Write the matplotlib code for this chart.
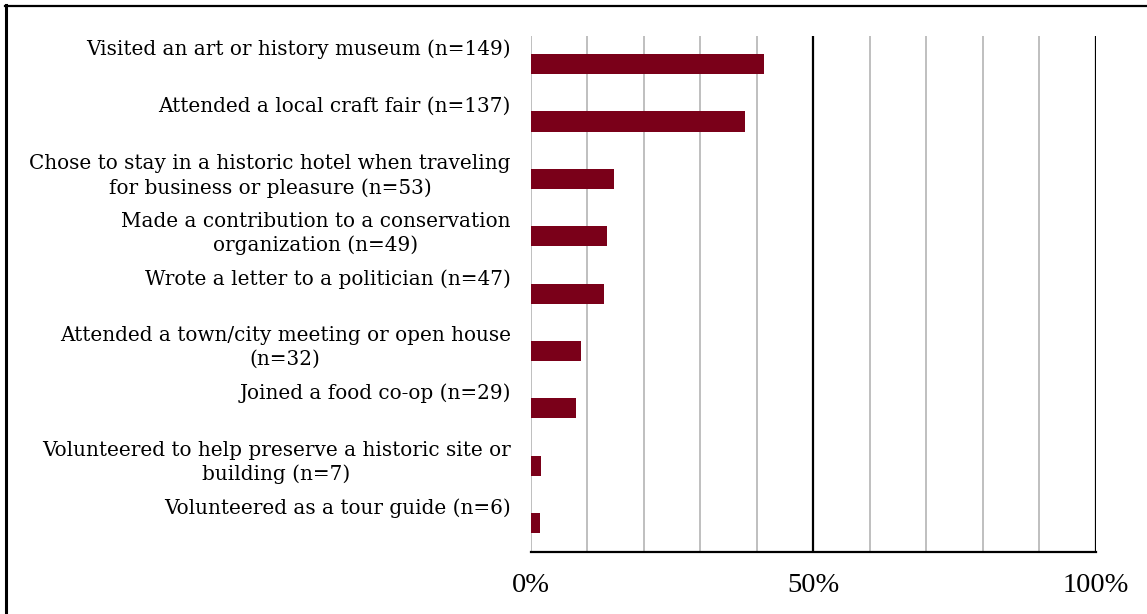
import matplotlib
matplotlib.use("Agg")
import matplotlib.pyplot as plt
from matplotlib.lines import Line2D

categories = [
    "Visited an art or history museum (n=149)",
    "Attended a local craft fair (n=137)",
    "Chose to stay in a historic hotel when traveling\nfor business or pleasure (n=53)",
    "Made a contribution to a conservation\norganization (n=49)",
    "Wrote a letter to a politician (n=47)",
    "Attended a town/city meeting or open house\n(n=32)",
    "Joined a food co-op (n=29)",
    "Volunteered to help preserve a historic site or\nbuilding (n=7)",
    "Volunteered as a tour guide (n=6)",
]
values = [41.3, 38.0, 14.7, 13.6, 13.0, 8.9, 8.0, 1.9, 1.7]
tick_values = [0, 50, 100]
tick_labels = ["0%", "50%", "100%"]

LABEL_FONT = "DejaVu Serif"
TICK_FONT = "Liberation Serif"
W, H = 1147, 614
fig = plt.figure(figsize=(W / 100, H / 100), dpi=100)
ax = fig.add_axes([530.5 / W, 1 - 551.7 / H, (1096 - 530.5) / W, (551.7 - 35.5) / H])

y = list(range(len(categories)))
ax.barh(y, values, height=0.35, color="#7A0019", zorder=3)
ax.set_xlim(0, 100)
ax.set_ylim(len(categories) - 0.5, -0.5)

for g in range(0, 101, 10):
    if g in (50, 100):
        ax.axvline(g, color="black", lw=1.6, zorder=2)
    else:
        ax.axvline(g, color="#BFBFBF", lw=1.4, zorder=1)

for s in ["top", "right", "left"]:
    ax.spines[s].set_visible(False)
ax.spines["bottom"].set_color("black")
ax.spines["bottom"].set_linewidth(1.6)
ax.spines["bottom"].set_zorder(4)

ax.set_yticks([])
ax.set_xticks(tick_values)
ax.set_xticklabels(tick_labels, fontfamily=TICK_FONT, fontsize=20.5)
ax.tick_params(axis="x", length=0, pad=15)

for i, lab in enumerate(categories):
    ax.text(-0.035, i - 0.5 + 0.07, lab, transform=ax.get_yaxis_transform(),
            ha="right", va="top", multialignment="center",
            fontfamily=LABEL_FONT, fontsize=14.45, linespacing=1.3)

fig.add_artist(Line2D([6 / W, 6 / W], [0, 1 - 5 / H], color="black", lw=2.2))
fig.add_artist(Line2D([5 / W, 1], [1 - 6 / H, 1 - 6 / H], color="black", lw=1.6))

fig.savefig("out.png", dpi=100)
